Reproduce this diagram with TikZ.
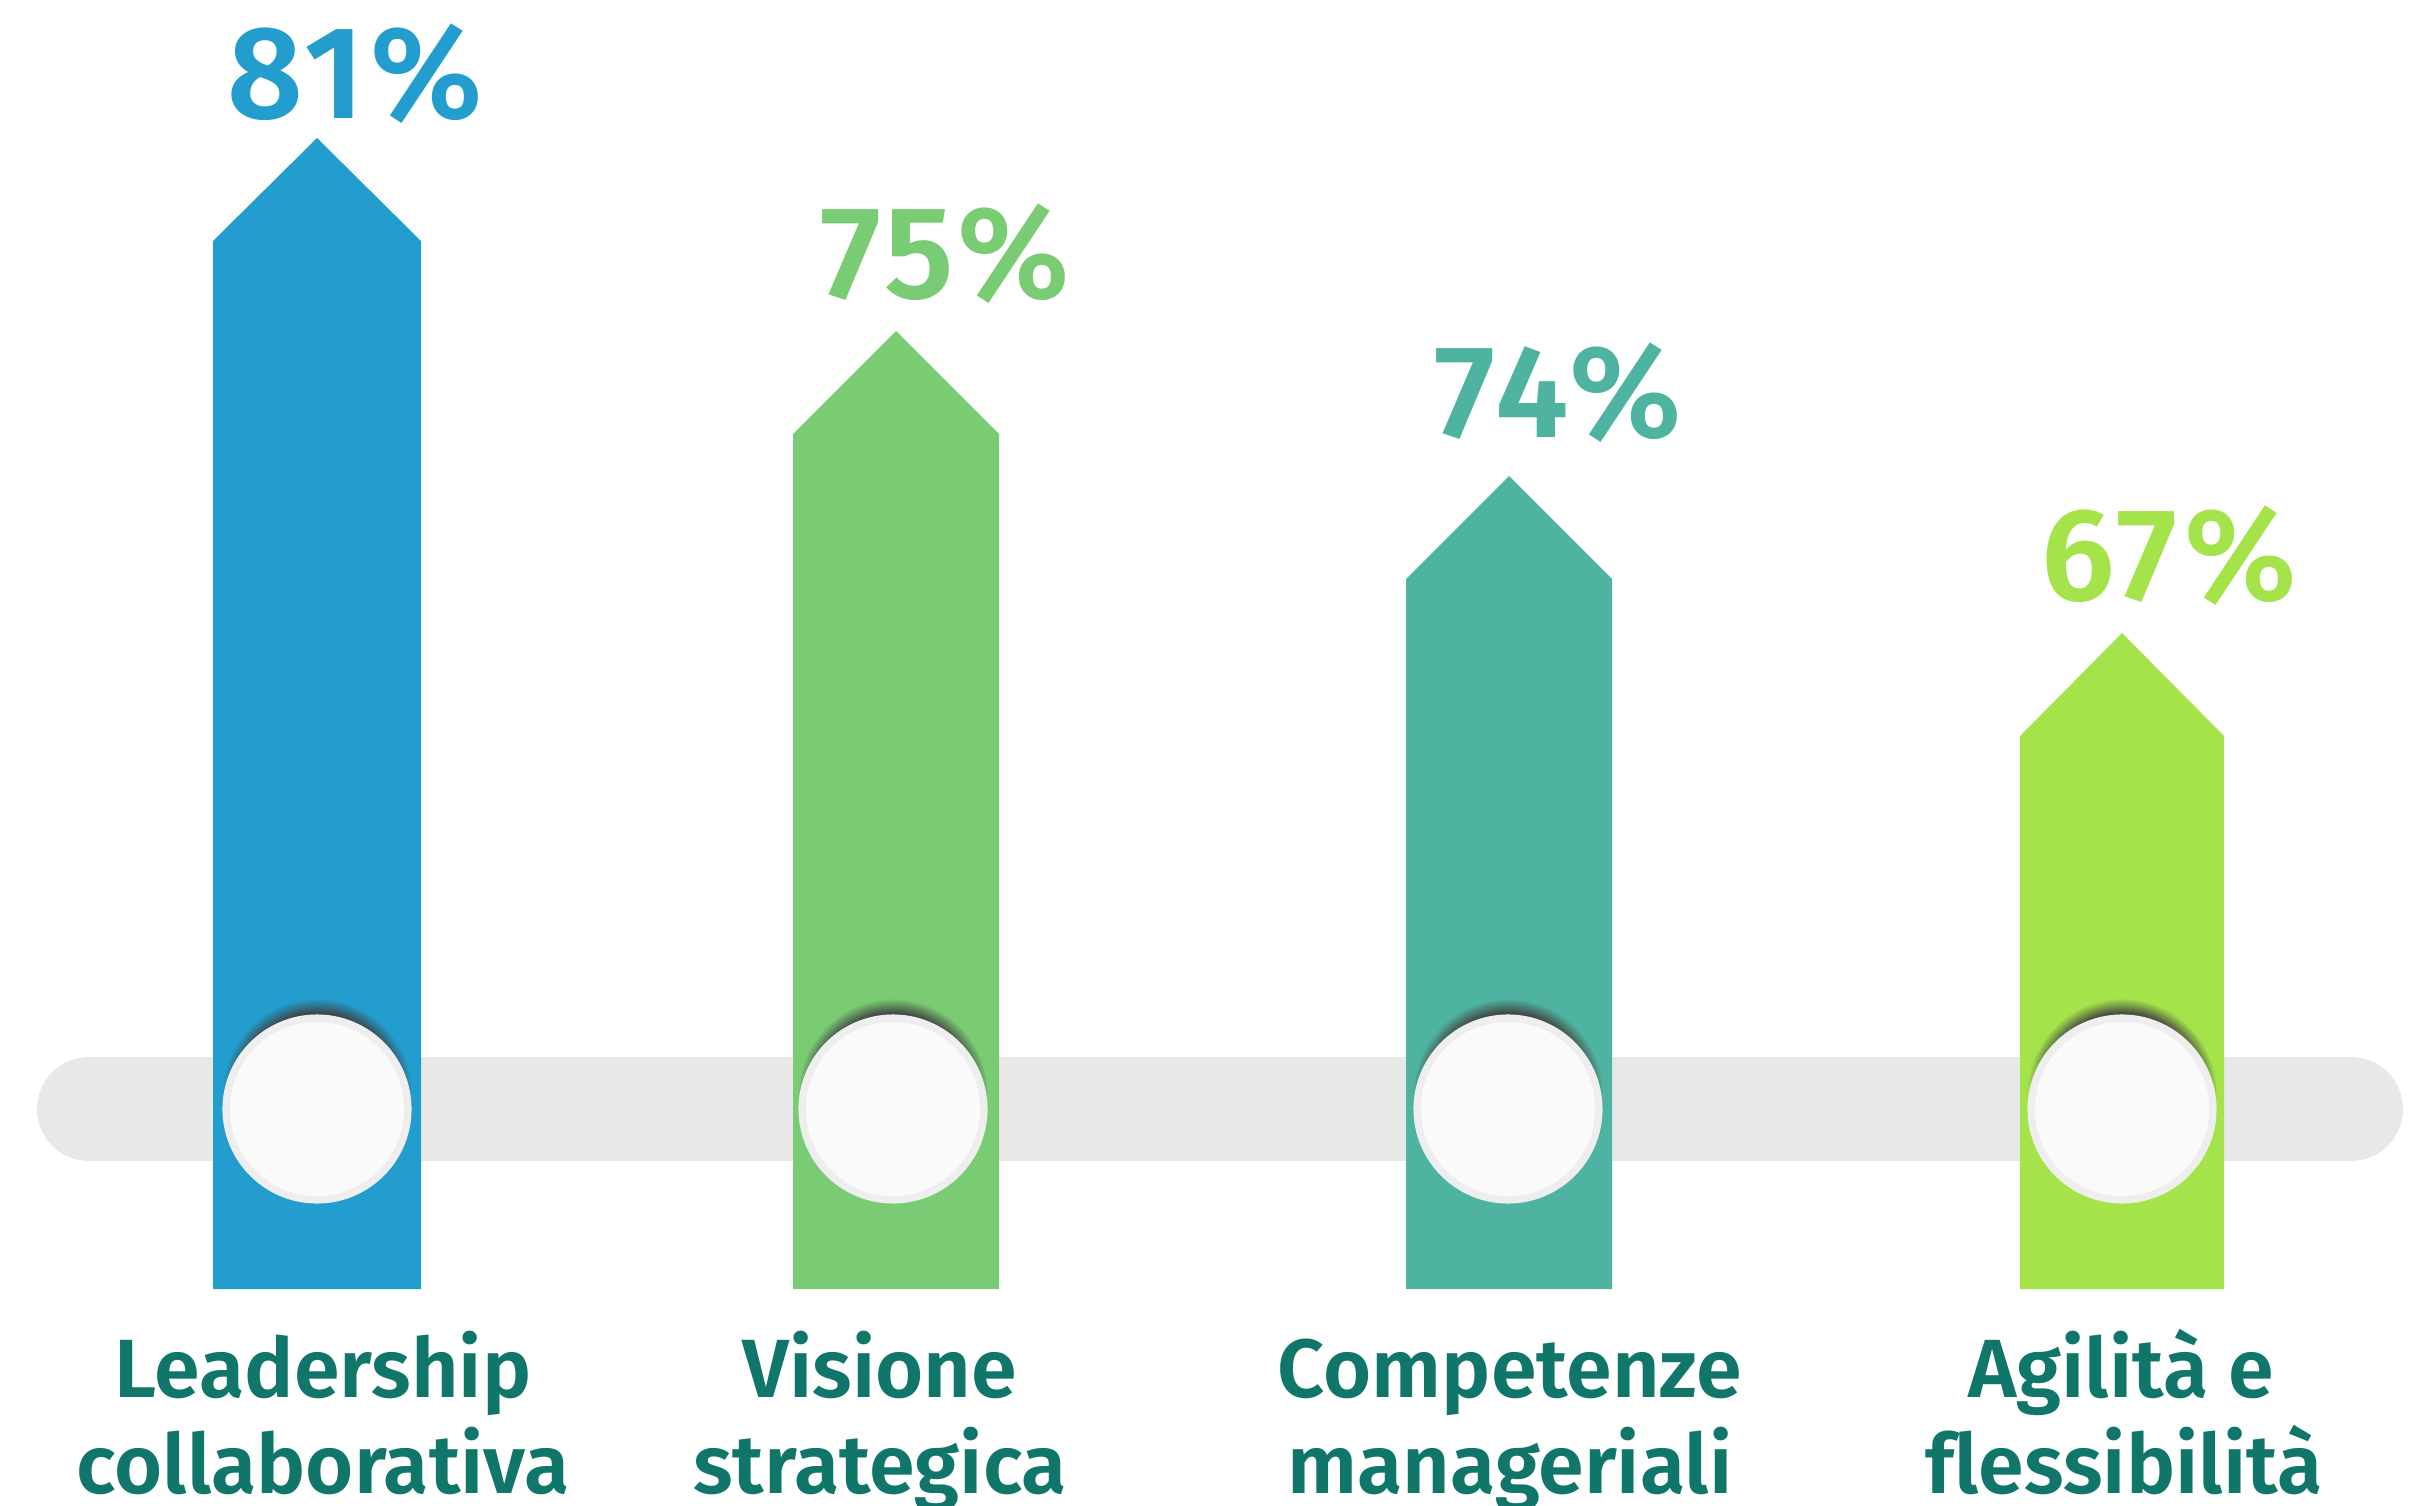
\documentclass[tikz,border=0pt]{standalone}
\usepackage{fontspec}
\setmainfont{Fira Sans}
\newfontfamily\labfont[Ligatures=NoCommon]{Fira Sans SemiBold}
\newfontfamily\pctfont[LetterSpace=4]{Fira Sans SemiBold}
\usetikzlibrary{shadows}
\definecolor{cA}{HTML}{239DCD}
\definecolor{cB}{HTML}{7ACC74}
\definecolor{cC}{HTML}{4FB3A1}
\definecolor{cD}{HTML}{A4E34A}
\definecolor{lbl}{HTML}{10766A}
\definecolor{track}{HTML}{E8E8E8}
\definecolor{ring}{HTML}{EEEEEE}
\definecolor{disc}{HTML}{FAFAFA}
\tikzset{
  pct/.style={font=\pctfont\fontsize{37.5}{40}\selectfont, inner sep=0pt, anchor=base},
  lab/.style={font=\labfont\fontsize{23.5}{27}\selectfont, text=lbl, inner sep=0pt, anchor=base},
  knob/.style={fill=ring, circular drop shadow={shadow xshift=0pt, shadow yshift=4.5pt, shadow scale=1.0, opacity=0.9, fill=black!75}},
}
\newcommand{\bararrow}[4]{% left, right, shoulder y, colour
  \fill[#4] (#1,1289) -- (#1,#3) -- ({(#1+#2)/2},{#3-103}) -- (#2,#3) -- (#2,1289) -- cycle;}
\begin{document}
\begin{tikzpicture}[x=0.01cm,y=-0.01cm]
\useasboundingbox (0,0) rectangle (2423,1506);
% track
\draw[track, line width=1.04cm, line cap=round] (89,1109) coordinate (t1) -- (2351,1109) coordinate (t2);
% bars
\bararrow{213}{421}{241}{cA}
\bararrow{793}{999}{434}{cB}
\bararrow{1406}{1612}{579}{cC}
\bararrow{2020}{2224}{736}{cD}
% knobs
\foreach \cx/\n in {317/k1, 893/k2, 1508/k3, 2122/k4}{
  \path[knob] (\cx,1109) circle (0.945cm);
  \fill[disc] (\cx,1109) circle (0.87cm);
}
% percentages
\node[pct, text=cA] (p1) at (355,118) {81\%};
\node[pct, text=cB] (p2) at (945,298) {75\%};
\node[pct, text=cC] (p3) at (1558,437) {74\%};
\node[pct, text=cD] (p4) at (2169,600) {67\%};
% labels
\node[lab] (l1a) at (323,1397) {Leadership};
\node[lab] (l1b) at (323,1493) {collaborativa};
\node[lab] (l2a) at (880,1397) {Visione};
\node[lab] (l2b) at (880,1493) {strategica};
\node[lab] (l3a) at (1510,1397) {Competenze};
\node[lab] (l3b) at (1510,1493) {manageriali};
\node[lab] (l4a) at (2121,1397) {Agilità e};
\node[lab] (l4b) at (2124,1493) {flessibilità};
\end{tikzpicture}
\end{document}
